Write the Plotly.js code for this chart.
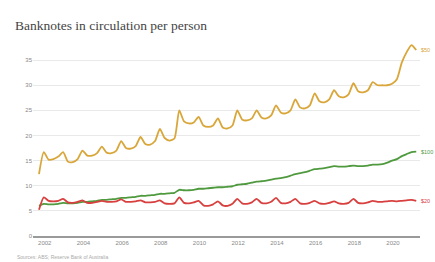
<!DOCTYPE html>
<html>
<head>
<meta charset="utf-8">
<script src="https://cdn.plot.ly/plotly-3.0.1.min.js"></script>
<style>html,body{margin:0;padding:0;background:#fff;}#chart{width:435px;height:262px;}</style>
</head>
<body>
<div id="chart"></div>
<script>
// Quarterly observations, Sep 2001 to Mar 2021
const startYear = 2001, startMonth = 9, nPoints = 79;
const dates = [];
for (let i = 0; i < nPoints; i++) {
  const m0 = startMonth - 1 + i * 3;
  const y = startYear + Math.floor(m0 / 12);
  const m = (m0 % 12) + 1;
  dates.push(y + '-' + String(m).padStart(2, '0') + '-15');
}

const seriesNames = ['$50', '$100', '$20'];

const notes50 = [
  12.3, 16.7,
  15.2, 15.3, 15.8, 16.7,
  14.8, 14.7, 15.3, 17.0,
  16.0, 16.0, 16.5, 17.8,
  16.6, 16.5, 17.0, 18.9,
  17.5, 17.4, 17.9, 19.7,
  18.3, 18.2, 18.9, 21.3,
  19.5, 19.0, 19.4, 25.0,
  22.8, 22.4, 22.6, 23.7,
  22.0, 21.7, 22.0, 23.4,
  21.6, 21.4, 22.0, 25.0,
  23.2, 23.0, 23.4, 25.0,
  23.6, 23.4, 24.0, 26.0,
  24.6, 24.4, 25.0, 27.2,
  25.6, 25.4, 26.0, 28.4,
  26.8, 26.6, 27.2, 29.0,
  27.8, 27.6, 28.2, 30.4,
  28.8, 28.6, 29.0, 30.6,
  30.0, 30.0, 30.0, 30.3,
  31.2, 34.5, 36.6, 38.0,
  37.0
];

const notes100 = [
  6.0, 6.4,
  6.3, 6.3, 6.4, 6.6,
  6.5, 6.5, 6.6, 6.8,
  6.8, 6.9, 7.0, 7.2,
  7.2, 7.3, 7.4, 7.6,
  7.6, 7.7, 7.8, 8.0,
  8.0, 8.1, 8.2, 8.4,
  8.4, 8.5, 8.6, 9.2,
  9.1, 9.1, 9.2, 9.4,
  9.4, 9.5, 9.6, 9.7,
  9.7, 9.8, 9.9, 10.2,
  10.3, 10.4, 10.6, 10.8,
  10.9, 11.0, 11.2, 11.4,
  11.5, 11.7, 12.0, 12.3,
  12.5, 12.7, 13.0, 13.3,
  13.4, 13.5, 13.7, 13.9,
  13.8, 13.8, 13.9, 14.0,
  13.9, 13.9, 14.0, 14.2,
  14.2, 14.3, 14.6, 15.0,
  15.3, 15.9, 16.3, 16.7,
  16.8
];

const notes20 = [
  5.2, 7.7,
  7.0, 6.9, 7.0, 7.4,
  6.7, 6.6, 6.8, 7.1,
  6.6, 6.6, 6.8, 7.0,
  6.8, 6.8, 6.9, 7.3,
  6.8, 6.8, 6.9, 7.1,
  6.7, 6.7, 6.8, 7.1,
  6.5, 6.4, 6.5, 7.7,
  6.6, 6.5, 6.7, 7.0,
  6.1, 6.0, 6.3, 6.9,
  6.1, 6.0, 6.4, 7.4,
  6.5, 6.4, 6.7, 7.4,
  6.6, 6.5, 6.8, 7.6,
  6.6, 6.5, 6.8, 7.4,
  6.5, 6.4, 6.6, 7.0,
  6.5, 6.4, 6.6, 6.9,
  6.5, 6.4, 6.6, 7.4,
  6.6, 6.5, 6.7, 7.0,
  6.8, 6.8, 6.9, 7.0,
  6.9, 7.0, 7.1, 7.2,
  7.0
];

const yTicks = [0, 5, 10, 15, 20, 25, 30, 35];
const xTickVals = ['2002-01-01','2004-01-01','2006-01-01','2008-01-01','2010-01-01','2012-01-01','2014-01-01','2016-01-01','2018-01-01','2020-01-01'];
const xTickText = ['2002','2004','2006','2008','2010','2012','2014','2016','2018','2020'];

const colors = ['#d9a63a', '#4f9a3e', '#d8403f'];
const allSeries = [notes50, notes100, notes20];

const traces = allSeries.map((vals, i) => ({
  x: dates, y: vals, type: 'scatter', mode: 'lines',
  name: seriesNames[i],
  line: {color: colors[i], width: 1.8, shape: 'spline', smoothing: 0.6},
  hoverinfo: 'skip'
}));

const annotations = allSeries.map((vals, i) => ({
  x: dates[dates.length - 1], y: vals[vals.length - 1],
  xref: 'x', yref: 'y', text: seriesNames[i], showarrow: false,
  xanchor: 'left', xshift: 3,
  font: {family: 'Liberation Sans Narrow, Liberation Sans, Arial, sans-serif', size: 5.5, color: colors[i]}
}));

annotations.push({
  text: 'Sources: ABS; Reserve Bank of Australia', xref: 'paper', yref: 'paper',
  x: -0.047, y: 0, yshift: -21, xanchor: 'left', yanchor: 'middle', showarrow: false,
  font: {family: 'Liberation Sans, Arial, sans-serif', size: 5, color: '#aaa'}
});

const layout = {
  width: 435, height: 262,
  margin: {l: 33, r: 15, t: 35, b: 26},
  paper_bgcolor: '#fff', plot_bgcolor: '#fff',
  showlegend: false,
  title: {
    text: 'Banknotes in circulation per person',
    x: 15 / 435, xanchor: 'left', xref: 'container',
    y: 1 - 25 / 262, yanchor: 'middle', yref: 'container',
    font: {family: 'Liberation Serif, Georgia, serif', size: 13.5, color: '#444'}
  },
  xaxis: {
    type: 'date',
    range: ['2001-05-25', '2021-05-25'],
    tickvals: xTickVals, ticktext: xTickText,
    showgrid: false, zeroline: false,
    showline: true, linecolor: '#9a9a9a', linewidth: 2,
    ticks: '', tickfont: {family: 'Liberation Sans, Arial, sans-serif', size: 6, color: '#888'}
  },
  yaxis: {
    range: [0, 40], tickvals: yTicks,
    showgrid: true, gridcolor: '#e9e9e9', gridwidth: 1,
    zeroline: false, showline: false,
    ticks: '', tickfont: {family: 'Liberation Sans, Arial, sans-serif', size: 6, color: '#888'}
  },
  annotations: annotations
};

Plotly.newPlot('chart', traces, layout, {staticPlot: true, displayModeBar: false});
</script>
</body>
</html>
